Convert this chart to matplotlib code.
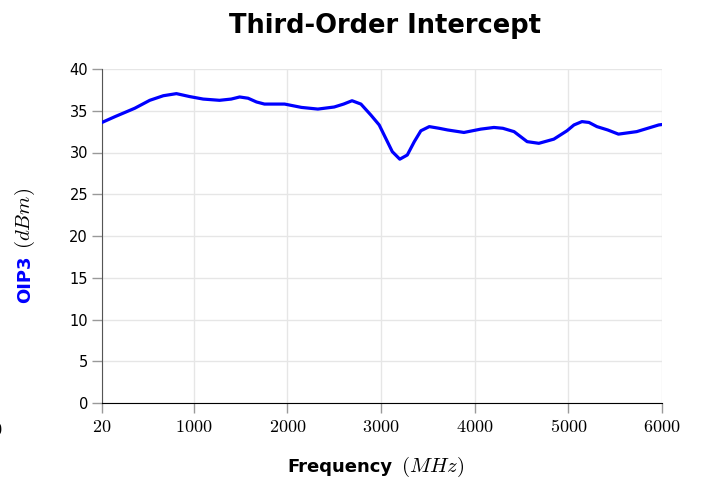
import matplotlib
matplotlib.use('Agg')
import matplotlib.pyplot as plt

plt.rcParams['mathtext.fontset'] = 'cm'

# frequency (MHz) and OIP3 (dBm)
freq = [20, 160, 370, 530, 675, 815, 955, 1100, 1275, 1400, 1490, 1580,
        1670, 1755, 1970, 2150, 2325, 2500, 2600, 2690, 2785, 2890, 2980,
        3050, 3120, 3200, 3280, 3355, 3425, 3515, 3620, 3710, 3885, 4065,
        4205, 4300, 4420, 4560, 4685, 4845, 4985, 5060, 5145, 5220, 5305,
        5420, 5535, 5730, 5965, 6000]
oip3 = [33.6, 34.3, 35.3, 36.25, 36.8, 37.05, 36.7, 36.4, 36.25, 36.4, 36.65,
        36.5, 36.05, 35.8, 35.8, 35.4, 35.2, 35.45, 35.8, 36.2, 35.8, 34.5,
        33.3, 31.7, 30.1, 29.2, 29.7, 31.3, 32.6, 33.1, 32.9, 32.7, 32.4,
        32.8, 33.0, 32.9, 32.5, 31.3, 31.1, 31.6, 32.6, 33.3, 33.7, 33.6,
        33.1, 32.7, 32.2, 32.5, 33.3, 33.35]

xticks = [20, 1000, 2000, 3000, 4000, 5000, 6000]
yticks = [0, 5, 10, 15, 20, 25, 30, 35, 40]

fig = plt.figure(figsize=(7.01, 4.83), dpi=100)
ax = fig.add_axes([102/701, 1-403/483, 560/701, 334/483])

ax.plot(freq, oip3, color='#0000ff', lw=2.3, solid_joinstyle='round',
        solid_capstyle='round', zorder=3)

ax.set_xlim(20, 6000)
ax.set_ylim(0, 40)
ax.set_xticks(xticks)
ax.set_xticklabels(['$%d$' % t for t in xticks], fontsize=13)
ax.set_yticks(yticks)
ax.set_yticklabels([str(t) for t in yticks], fontsize=10.5, family='DejaVu Sans')

ax.grid(True, color='#e6e6e6', lw=1)
ax.set_axisbelow(True)
ax.spines['top'].set_visible(False)
ax.spines['right'].set_visible(False)
ax.spines['left'].set_color('#555555')
ax.spines['bottom'].set_color('black')
ax.tick_params(direction='out', length=7, color='#999999', width=1)
ax.tick_params(axis='x', pad=4)
ax.tick_params(axis='y', pad=3)

fig.text(385/701, 1-33/483, 'Third-Order Intercept', ha='center', va='baseline',
         fontsize=18.5, fontweight='bold', family='DejaVu Sans')

# axis labels in two parts (bold word + math unit)
fig.text(287/701, 1-467/483, 'Frequency', ha='left', va='center',
         fontsize=13, fontweight='bold', family='DejaVu Sans')
fig.text(401/701, 1-467/483, r'$(MHz)$', ha='left', va='center', fontsize=15)
fig.text(25/701, 1-303/483, 'OIP3', ha='center', va='bottom', rotation=90,
         fontsize=13, fontweight='bold', color='#0000ff', family='DejaVu Sans')
fig.text(25/701, 1-249/483, r'$(dBm)$', ha='center', va='bottom', rotation=90,
         fontsize=15)

# stray label clipped at the left edge
fig.text(2.5/701, 1-430/483, '$0$', ha='right', va='center', fontsize=13)

fig.savefig('out.png', dpi=100)
